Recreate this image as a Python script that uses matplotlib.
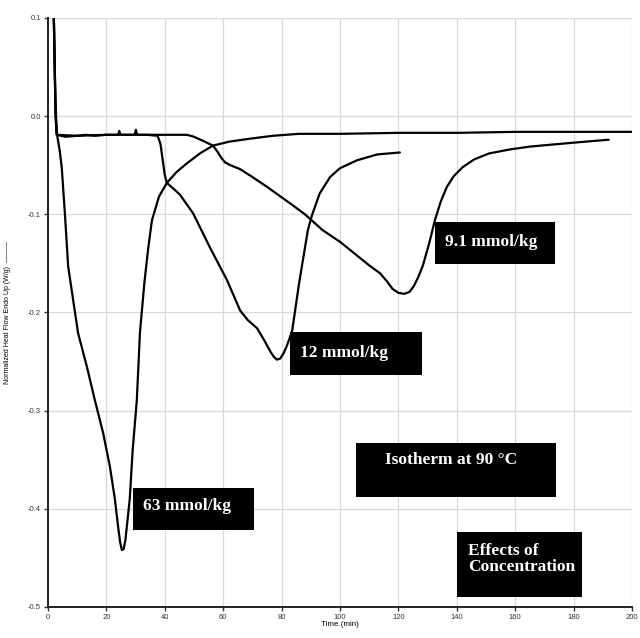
import numpy as np
import matplotlib.pyplot as plt
from matplotlib.patches import Rectangle

# --- data (time in min, heat flow in W/g) ---

t_63 = [1.5, 2.0, 2.5, 3.0, 4.0, 4.7, 5.8, 6.9, 8.6, 10.3, 13.3, 16.1, 18.9,
        21.2, 22.9, 24.0, 24.7, 25.3, 25.9, 26.5, 27.0, 28.0, 29.0, 30.4,
        31.5, 33.0, 34.3, 35.6, 38.0, 40.7, 44.0, 47.6, 52.0, 56.5, 62.0,
        69.0, 77.0, 86.0, 100.0, 120.0, 140.0, 160.0, 180.0, 200.0]
hf_63 = [0.13, 0.10, 0.02, -0.017, -0.035, -0.052, -0.10, -0.153, -0.187,
         -0.221, -0.255, -0.29, -0.323, -0.357, -0.39, -0.418, -0.434,
         -0.442, -0.441, -0.432, -0.418, -0.39, -0.34, -0.29, -0.22, -0.17,
         -0.135, -0.106, -0.082, -0.068, -0.057, -0.048, -0.038, -0.030,
         -0.026, -0.023, -0.020, -0.018, -0.018, -0.017, -0.017, -0.016,
         -0.016, -0.016]

t_12 = [1.5, 2.0, 2.6, 3.0, 6.0, 10.0, 13.0, 16.0, 20.0, 24.0, 24.4, 24.8,
        27.0, 29.7, 30.1, 30.5, 34.0, 37.5, 38.5, 39.3, 40.0, 40.7, 43.0,
        45.2, 49.7, 55.5, 61.3, 65.8, 68.5, 71.6, 74.0, 76.0, 77.3, 78.4,
        79.5, 80.6, 81.8, 83.6, 86.0, 89.0, 90.4, 93.0, 96.6, 100.0, 105.8,
        112.7, 120.5]
hf_12 = [0.13, 0.10, 0.0, -0.019, -0.021, -0.020, -0.019, -0.020, -0.019,
         -0.019, -0.015, -0.019, -0.019, -0.019, -0.014, -0.019, -0.019,
         -0.020, -0.028, -0.045, -0.060, -0.068, -0.074, -0.080, -0.099,
         -0.134, -0.167, -0.198, -0.208, -0.216, -0.228, -0.239, -0.245,
         -0.248, -0.247, -0.242, -0.234, -0.219, -0.170, -0.116, -0.101,
         -0.079, -0.062, -0.053, -0.045, -0.039, -0.037]

t_91 = [1.5, 2.0, 2.6, 3.0, 10.0, 20.0, 30.0, 40.0, 45.0, 47.6, 50.0, 53.0,
        56.5, 58.0, 59.5, 60.6, 62.5, 65.8, 70.0, 75.0, 83.0, 88.0, 94.0,
        100.0, 105.0, 110.0, 113.7, 116.0, 118.0, 120.0, 122.0, 123.8, 125.3,
        126.8, 128.4, 130.5, 132.5, 134.5, 136.6, 139.0, 142.0, 146.0, 151.0,
        158.0, 165.0, 180.0, 192.0]
hf_91 = [0.13, 0.10, 0.0, -0.019, -0.020, -0.019, -0.019, -0.019, -0.019,
         -0.019, -0.021, -0.025, -0.030, -0.036, -0.043, -0.047, -0.050,
         -0.054, -0.062, -0.072, -0.089, -0.100, -0.116, -0.128, -0.140,
         -0.152, -0.160, -0.168, -0.176, -0.180, -0.181, -0.179, -0.173,
         -0.164, -0.152, -0.130, -0.106, -0.087, -0.072, -0.061, -0.052,
         -0.044, -0.038, -0.034, -0.031, -0.027, -0.024]

x_ticks = [0, 20, 40, 60, 80, 100, 120, 140, 160, 180, 200]
y_ticks = [-0.5, -0.4, -0.3, -0.2, -0.1, 0.0, 0.1]

box_labels = ['9.1 mmol/kg', '12 mmol/kg', '63 mmol/kg',
              'Isotherm at 90 \u00b0C', 'Effects of\nConcentration']

# --- figure ---------------------

fig = plt.figure(figsize = (6.4, 6.38), dpi = 100)
ax = fig.add_axes([0.075, 0.0486, 0.9125, 0.9232])

for t, hf in [(t_63, hf_63), (t_12, hf_12), (t_91, hf_91)]:
	ax.plot(t, hf, color = 'k', lw = 1.6, solid_joinstyle = 'round',
		solid_capstyle = 'round', zorder = 3)

ax.set_xlim(0, 200)
ax.set_ylim(-0.5, 0.1)
ax.set_xticks(x_ticks)
ax.set_yticks(y_ticks)
ax.set_xticklabels([str(v) for v in x_ticks])
ax.set_yticklabels(['{:.1f}'.format(v) for v in y_ticks])
ax.grid(True, color = '#d9d9d9', lw = 0.9)
ax.set_axisbelow(True)

for s in ['top', 'right']:
	ax.spines[s].set_visible(False)
for s in ['left', 'bottom']:
	ax.spines[s].set_linewidth(1.4)
	ax.spines[s].set_color('#222222')

ax.tick_params(labelsize = 5.5, length = 3, width = 1, colors = '#333333',
	pad = 2)
for lab in ax.get_xticklabels() + ax.get_yticklabels():
	lab.set_family('Liberation Sans')

ax.set_xlabel('Time (min)', fontsize = 5.8, family = 'Liberation Sans',
	labelpad = 0)
ax.set_ylabel('Normalized Heat Flow Endo Up (W/g)  \u2014\u2014\u2014',
	fontsize = 5, family = 'Liberation Sans', labelpad = 12)

# --- black label boxes ---------------------

# (x0, x1, y0, y1) of box, text anchor (x, y)
boxes = [
	((132.5, 173.6, -0.1506, -0.1078), (136.0, -0.128)),
	((82.9, 128.1, -0.2637, -0.2199), (86.3, -0.241)),
	((29.1, 70.5, -0.4215, -0.3788), (32.5, -0.397)),
	((105.5, 174.0, -0.3879, -0.3329), (115.4, -0.350)),
	((140.1, 182.9, -0.4898, -0.4236), (143.8, -0.451)),
]

for (b, (tx, ty)), txt in zip(boxes, box_labels):
	ax.add_patch(Rectangle((b[0], b[2]), b[1] - b[0], b[3] - b[2],
		facecolor = 'k', edgecolor = 'none', zorder = 5))
	ax.text(tx, ty, txt, color = 'white', fontsize = 12.5, fontweight = 'bold',
		family = 'Liberation Serif', va = 'center', ha = 'left',
		linespacing = 1.05, zorder = 6)

fig.savefig('out.png', dpi = 100)
plt.close()
